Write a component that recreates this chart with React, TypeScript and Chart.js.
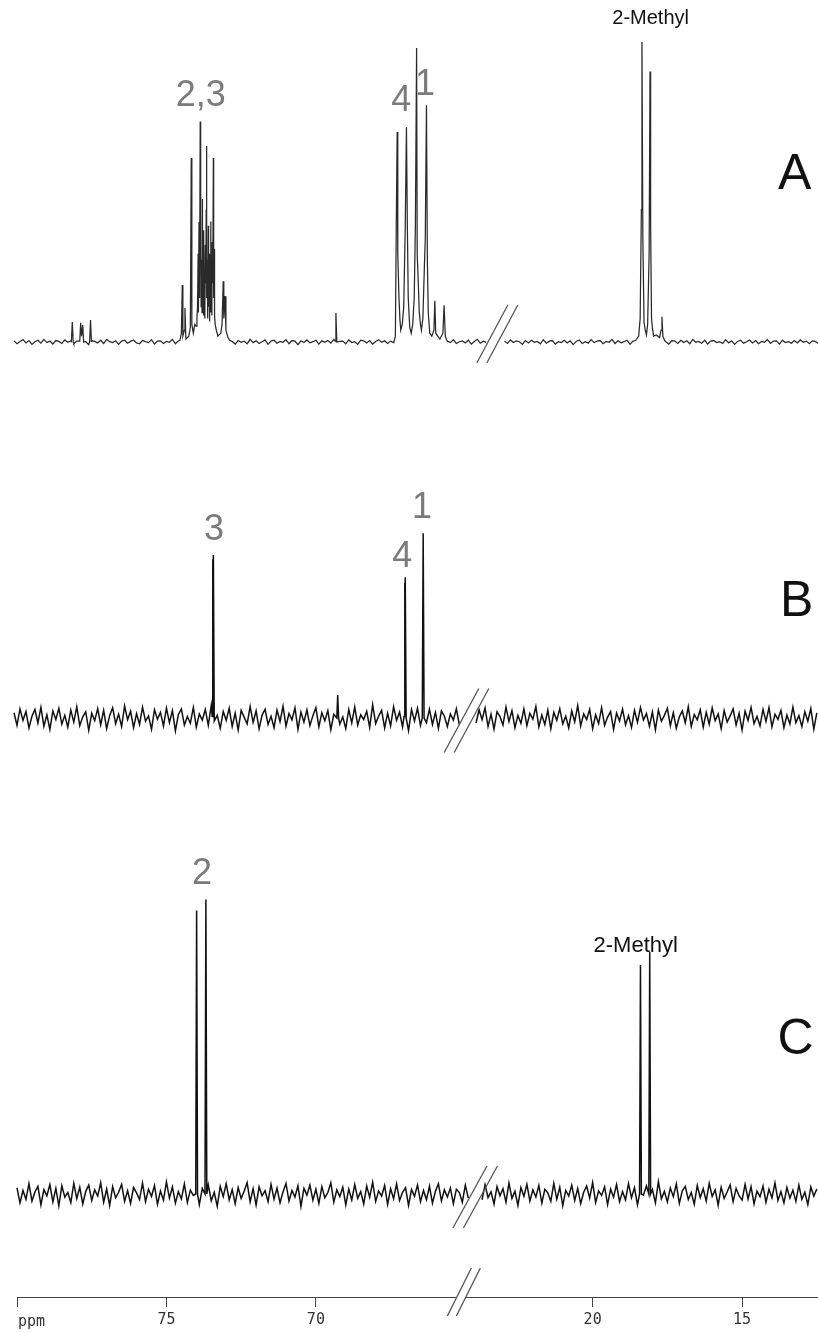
import React, { useEffect, useRef } from 'react';
import { Chart, registerables } from 'chart.js';

Chart.register(...registerables);

// ---- axis (ppm) ----
const BREAK_OFFSET = 40.74; // shift of the high-field segment so the two ppm windows sit side by side
const AXIS_LEFT_PPM = 80;
const AXIS_RIGHT_PPM = 12.46;
const X_TICK_PPM = [80, 75, 70, 20, 15];
const X_TICK_LABELS = ['', '75', '70', '20', '15'];
const GRID_STEP = 0.1;

// ---- spectrum A (baseline noise, sampled every 0.1 ppm) ----
const A_NOISE_LEFT_START = 80.1;
const A_NOISE_LEFT = [
  0.4,-0.6,0.2,0.8,-0.3,0.5,-0.8,0.1,0.6,-0.4,0.9,-0.2,0.3,-0.7,0.5,0.2,-0.5,0.7,-0.1,0.4,
  -0.6,0.3,0.8,-0.4,0.1,-0.9,0.5,0.2,-0.3,0.6,-0.5,0.9,0.1,-0.2,0.4,-0.8,0.3,0.6,-0.4,0.2,
  0.7,-0.3,-0.6,0.5,0.1,-0.2,0.8,-0.7,0.3,0.4,-0.5,0.2,-0.1,0.9,-0.6,0.4,0.1,-0.3,0.6,-0.8,
  0.2,0.5,-0.4,0.7,-0.2,0.3,-0.9,0.6,0.1,-0.5,0.8,-0.3,0.4,0.2,-0.7,0.5,-0.1,0.3,-0.6,0.9,
  -0.2,0.4,-0.5,0.1,0.7,-0.8,0.3,0.6,-0.4,0.2,-0.1,0.8,-0.6,0.5,0.3,-0.9,0.4,-0.2,0.7,-0.3,
  0.1,0.6,-0.7,0.4,-0.1,0.5,-0.4,0.9,-0.5,0.2,0.3,-0.6,0.7,-0.2,0.1,-0.8,0.6,0.4,-0.3,0.5,
  -0.7,0.2,0.8,-0.1,0.4,-0.5,0.3,-0.2,0.9,-0.6,0.1,0.5,-0.4,0.7,-0.3,0.2,-0.8,0.6,0.3,-0.1,
  0.5,-0.4,0.2,0.7,-0.6,0.3,-0.2,0.8,-0.5,0.1,0.4,-0.3,0.6,-0.7,0.2,0.9,-0.4,0.3,-0.1,
];
const A_NOISE_RIGHT_START = 22.95;
const A_NOISE_RIGHT = [
  0.3,-0.5,0.7,-0.2,0.4,0.1,-0.8,0.5,-0.3,0.6,-0.1,0.2,-0.6,0.8,-0.4,0.3,0.5,-0.7,0.1,-0.2,
  0.6,-0.3,0.4,-0.9,0.2,0.7,-0.5,0.1,-0.4,0.8,-0.2,0.3,0.5,-0.6,0.2,-0.1,0.9,-0.5,0.4,-0.3,
  0.1,0.6,-0.8,0.3,-0.2,0.5,-0.4,0.7,0.2,-0.6,0.4,-0.1,0.8,-0.3,0.1,-0.7,0.5,0.3,-0.5,0.6,
  -0.2,0.4,-0.6,0.9,-0.1,0.2,-0.4,0.6,-0.7,0.3,0.5,-0.2,0.1,-0.5,0.8,-0.3,0.4,-0.8,0.2,0.6,
  -0.4,0.1,0.7,-0.3,0.5,-0.6,0.2,-0.1,0.8,-0.5,0.3,0.4,-0.7,0.6,-0.2,0.1,-0.4,0.5,-0.3,0.7,
  -0.1,0.3,-0.6,0.4,0.2,-0.5,
];
// peak regions of A: [ppm, intensity] (100 = tallest line of A)
const A_PEAKS_LEFT = [
  [[78.18,0.2],[78.15,6.8],[78.12,0]],
  [[77.90,0.3],[77.87,6.5],[77.84,2],[77.80,5.8],[77.77,0]],
  [[77.57,0],[77.54,7.5],[77.51,0.2]],
  [[74.55,0.5],[74.50,3],[74.47,19.4],[74.45,2],[74.40,4],[74.38,11.6],[74.35,1],[74.25,2],[74.20,5],
   [74.17,62.6],[74.15,6],[74.10,3],[74.05,6],[74.01,5.4],[73.98,8],[73.96,12],[73.94,30],[73.93,10],
   [73.91,40.8],[73.90,15],[73.89,32],[73.88,20],[73.87,75],[73.86,35],[73.85,50],[73.84,12],[73.82,28],
   [73.81,10],[73.80,48.6],[73.79,14],[73.77,30],[73.76,9],[73.75,38],[73.74,12],[73.72,25],[73.71,8],
   [73.70,33],[73.68,20],[73.67,45],[73.66,66.7],[73.65,15],[73.63,28],[73.62,8],[73.60,39.5],[73.59,12],
   [73.57,25],[73.56,7],[73.55,30],[73.53,14],[73.52,41],[73.51,10],[73.49,22],[73.48,9],[73.47,34],
   [73.45,20],[73.43,62.6],[73.42,15],[73.40,31.6],[73.39,9],[73.37,6],[73.33,4],[73.28,2],[73.18,3],
   [73.14,6],[73.10,20.7],[73.08,8],[73.04,15.6],[73.01,4],[72.94,1.5],[72.88,0.5]],
  [[69.36,0.3],[69.33,9.9],[69.30,0]],
  [[67.39,0],[67.34,2],[67.31,40],[67.28,71.4],[67.26,30],[67.22,15],[67.19,8],[67.16,4],[67.11,6],
   [67.06,12],[67.01,39],[66.97,73],[66.94,40],[66.91,15],[66.86,5],[66.81,3],[66.76,6],[66.71,15],
   [66.67,40],[66.63,100],[66.61,30],[66.57,19],[66.54,10],[66.50,6],[66.47,4],[66.42,8],[66.37,25.5],
   [66.34,35],[66.30,80.5],[66.27,28],[66.24,10],[66.19,3],[66.12,2],[66.05,4],[66.02,14],[65.99,3],
   [65.92,2],[65.85,1],[65.75,3],[65.71,12.5],[65.67,2],[65.62,0.5]],
];
const A_PEAKS_RIGHT = [
  [[18.56,0.5],[18.46,2],[18.41,8],[18.37,45],[18.35,102],[18.32,35],[18.28,6.5],[18.24,4],[18.20,2.4],
   [18.16,6],[18.11,30],[18.08,92],[18.06,40],[18.03,8],[18.00,4.8],[17.96,2],[17.87,2.4],[17.76,1.5],
   [17.71,4],[17.68,8.6],[17.65,2],[17.59,0.5]],
];

// ---- spectrum B ----
const B_NOISE_LEFT_START = 80.1;
const B_NOISE_LEFT = [
  1.8,-2.5,3.1,-0.8,2.2,-3.4,0.6,2.9,-1.7,3.6,-2.8,1.1,-3.9,2.4,-0.5,3.3,-2.1,0.9,-3.1,2.7,
  -1.4,3.8,-2.6,0.4,2.1,-4.2,1.6,-0.9,3.2,-2.3,2.6,-3.6,0.8,3.5,-1.9,1.3,-2.9,4.1,-0.6,2.3,
  -3.3,1.5,-2.2,3.7,-1.1,0.7,-3.8,2.8,-0.4,1.9,-2.7,3.4,-1.6,2.5,-4.4,1.2,3.1,-2.4,0.5,-1.8,
  3.6,-3.1,1.4,-0.7,2.9,-2.5,4.3,-1.3,0.9,-3.5,2.2,-0.8,3.3,-2.9,1.7,-4.1,2.6,0.3,-2.0,3.9,
  -1.5,2.4,-3.7,1.0,3.0,-2.2,0.6,-3.3,2.7,-1.2,4.0,-2.8,1.5,-0.6,3.4,-3.9,2.0,-1.4,2.8,-2.6,
  0.8,3.5,-3.0,1.8,-0.9,2.5,-4.0,1.3,3.2,-2.1,0.4,-3.6,2.9,-1.7,3.7,-2.4,1.1,-0.5,2.3,-3.2,
  4.5,-1.9,0.7,2.6,-3.4,1.6,-2.7,3.8,-0.8,2.0,-3.1,1.2,-4.3,2.9,-1.0,3.3,-2.5,0.9,-1.6,3.0,
  -2.2,1.9,-3.5,2.4,0.6,-2.9,1.4,-0.7,3.1,-2.3,
];
const B_NOISE_RIGHT_START = 23.9;
const B_NOISE_RIGHT = [
  -1.7,2.8,-0.6,3.4,-2.9,1.3,-3.8,2.1,0.5,-2.4,3.7,-1.2,2.5,-3.3,0.9,-1.8,3.1,-2.6,1.6,-0.4,
  3.9,-3.0,1.0,-2.2,2.7,-3.7,1.9,-0.8,3.2,-2.0,0.6,-3.4,2.4,-1.3,4.2,-2.7,1.4,-0.5,2.9,-3.6,
  1.1,-1.9,3.5,-2.5,0.3,2.2,-3.9,1.7,-1.0,3.0,-2.3,0.8,-3.2,2.6,-1.5,3.6,-0.7,1.5,-2.8,2.0,
  -4.0,2.7,-1.1,0.9,3.3,-2.6,1.8,-3.5,0.4,2.4,-1.6,3.8,-2.9,1.2,-0.6,2.8,-3.1,1.9,-2.1,3.4,
  -0.9,1.4,-3.6,2.5,-1.4,0.7,3.1,-2.4,1.6,-4.1,2.3,-0.8,3.6,-1.9,0.5,-2.7,2.9,-1.2,3.5,-3.0,
  1.3,-0.5,2.6,-3.3,1.0,-2.0,3.7,-1.6,0.8,-2.9,2.1,-1.1,3.2,-3.8,1.7,
];
const B_PEAKS_LEFT = [
  [[73.47,0.5],[73.45,54],[73.44,25],[73.43,55.4],[73.40,-1]],
  [[69.30,0],[69.27,7.8],[69.24,0]],
  [[67.05,0.5],[67.03,46],[67.02,30],[67.01,47.9],[66.98,0]],
  [[66.44,0],[66.41,62.8],[66.38,0]],
];
const B_PEAKS_RIGHT: number[][][] = [];

// ---- spectrum C ----
const C_NOISE_LEFT_START = 80.0;
const C_NOISE_LEFT = [
  2.1,-3.0,1.2,-1.8,3.5,-2.4,0.7,2.6,-3.7,1.5,-0.6,3.2,-2.7,1.9,-4.0,2.8,-1.1,0.5,-2.9,3.6,
  -1.6,2.3,-3.4,0.9,3.0,-2.2,1.4,-0.7,3.8,-2.8,1.7,-3.9,2.5,-1.3,0.6,3.3,-2.5,1.1,-3.2,2.2,
  0.4,-1.9,3.7,-2.6,1.6,-0.8,2.9,-3.5,1.0,-2.1,4.1,-1.4,2.4,-3.1,0.8,-1.7,3.4,-2.9,1.3,-0.5,
  2.7,-3.6,1.9,-1.2,3.1,-2.3,0.6,-4.2,2.6,-0.9,3.5,-2.0,1.5,-3.3,2.2,-1.5,0.9,3.9,-2.7,1.8,
  -3.8,2.4,-0.6,1.1,-2.6,3.3,-1.8,2.0,-3.0,0.7,3.6,-2.4,1.2,-1.0,2.8,-4.3,1.9,-0.4,3.0,-2.1,
  1.6,-3.2,2.5,-1.3,0.5,3.8,-2.8,1.4,-0.9,2.3,-3.7,1.7,-2.0,3.2,-1.5,0.8,-3.4,2.7,-1.1,4.0,
  -2.5,1.0,-0.7,2.9,-3.5,1.8,-1.6,3.4,-2.2,0.6,2.1,-3.9,1.5,-0.8,3.1,-2.6,1.2,-1.9,2.6,-3.1,
  0.9,3.5,-2.3,1.4,-1.0,2.0,-3.3,1.6,0.5,-2.8,3.0,-1.4,
];
const C_NOISE_RIGHT_START = 23.7;
const C_NOISE_RIGHT = [
  -2.0,3.1,-1.2,0.7,-3.4,2.5,-0.6,1.8,-2.8,3.7,-1.5,0.9,-3.9,2.2,-0.8,3.3,-2.4,1.4,-1.0,2.9,
  -3.1,1.6,0.4,-2.5,3.6,-1.8,2.3,-4.0,1.2,-0.7,3.0,-2.2,1.9,-3.3,0.6,2.7,-1.4,3.9,-2.9,1.0,
  -0.5,2.4,-3.6,1.7,-1.1,3.2,-2.6,0.8,-2.0,3.5,-1.3,2.1,-3.7,1.3,-0.4,2.8,-2.3,1.5,-3.0,4.2,
  -1.6,0.9,-2.7,2.0,-0.9,3.4,-3.2,1.1,2.6,-1.9,0.5,-3.5,2.9,-1.2,1.8,-2.4,3.6,-0.8,1.4,-3.8,
  2.3,-1.5,0.7,3.1,-2.6,1.9,-0.6,-2.1,3.3,-1.7,2.5,-3.4,1.0,-0.9,2.7,-2.8,1.6,-1.3,3.8,-2.2,
  0.8,-3.0,2.2,-1.4,1.3,-2.5,3.0,-1.8,0.6,-3.6,2.4,-0.7,1.7,
];
const C_PEAKS_LEFT = [
  [[74.02,0],[73.99,96.4],[73.96,0]],
  [[73.71,0],[73.68,100.2],[73.65,0]],
];
const C_PEAKS_RIGHT = [
  [[18.43,0],[18.40,77.9],[18.37,0]],
  [[18.12,0],[18.09,82.4],[18.06,0]],
];

// ---- layout / style constants ----
const CANVAS_W = 818;
const CANVAS_H = 1333;
const AREA_BOTTOM = 1297;
const PX_PER_UNIT = 2.94;
const BASELINE_PX: Record<string, number> = { yA: 342, yB: 718, yC: 1194 };
const GRAY = '#7b7b7b';
const SANS = '"Liberation Sans", Arial, sans-serif';
const MONO = '"DejaVu Sans Mono", monospace';

type Pt = { x: number; y: number | null };
const toU = (ppm: number) => (ppm > 40 ? ppm : ppm + BREAK_OFFSET);

function segmentPoints(start: number, noise: number[], traces: number[][][]): Pt[] {
  const spans = traces.map((t) => [Math.min(...t.map((p) => p[0])), Math.max(...t.map((p) => p[0]))]);
  const pts: Pt[] = [];
  noise.forEach((v, i) => {
    const ppm = Math.round((start - i * GRID_STEP) * 100) / 100;
    if (spans.some(([lo, hi]) => ppm >= lo && ppm <= hi)) return;
    pts.push({ x: toU(ppm), y: v });
  });
  traces.forEach((t) => t.forEach(([p, v]) => pts.push({ x: toU(p), y: v })));
  pts.sort((a, b) => b.x - a.x);
  return pts;
}

function spectrum(lStart: number, lNoise: number[], lPeaks: number[][][], rStart: number, rNoise: number[], rPeaks: number[][][]): Pt[] {
  const l = segmentPoints(lStart, lNoise, lPeaks);
  const r = segmentPoints(rStart, rNoise, rPeaks);
  return [...l, { x: (l[l.length - 1].x + r[0].x) / 2, y: null }, ...r];
}

function yRange(axis: string) {
  const b = BASELINE_PX[axis];
  return { min: -(AREA_BOTTOM - b) / PX_PER_UNIT, max: b / PX_PER_UNIT };
}

// labels: [text, ppm, intensity, axis]
const PEAK_LABELS: [string, number, number, string][] = [
  ['2,3', 73.85, 83.7, 'yA'],
  ['4', 67.14, 82.0, 'yA'],
  ['1', 66.35, 87.4, 'yA'],
  ['3', 73.41, 63.9, 'yB'],
  ['4', 67.11, 54.8, 'yB'],
  ['1', 66.45, 71.4, 'yB'],
  ['2', 73.81, 108.8, 'yC'],
];
// [text, ppm, intensity, axis, font size]
const GROUP_LABELS: [string, number, number, string, number][] = [
  ['2-Methyl', 18.06, 110.2, 'yA', 20],
  ['2-Methyl', 18.56, 84.4, 'yC', 22],
];
const PANEL_LABELS: [string, number, number, string][] = [
  ['A', 13.24, 56.8, 'yA'],
  ['B', 13.17, 39.5, 'yB'],
  ['C', 13.21, 52.4, 'yC'],
];
// break marks: axis, ppm of centre, intensity of centre, half dx, half dy, gap
const SPECTRUM_BREAKS: [string, number, number, number, number, number][] = [
  ['yA', 63.93, 2.7, 15.5, 29, 10],
  ['yB', 64.96, -0.85, 17.3, 32, 10],
  ['yC', 64.67, -1.0, 17, 31, 10.5],
];

const overlay = {
  id: 'overlay',
  afterDraw(chart: any) {
    const { ctx, scales, chartArea } = chart;
    const xs = scales.x;
    ctx.save();
    ctx.strokeStyle = '#555';
    ctx.lineWidth = 1.3;
    const slashPair = (cx: number, cy: number, dx: number, dy: number, gap: number) => {
      [-gap / 2, gap / 2].forEach((off) => {
        ctx.beginPath();
        ctx.moveTo(cx + off - dx, cy + dy);
        ctx.lineTo(cx + off + dx, cy - dy);
        ctx.stroke();
      });
    };
    SPECTRUM_BREAKS.forEach(([axis, ppm, val, dx, dy, gap]) => {
      slashPair(xs.getPixelForValue(toU(ppm)), scales[axis].getPixelForValue(val), dx, dy, gap);
    });
    // axis break
    const acx = xs.getPixelForValue(toU(65.05));
    const acy = chartArea.bottom - 5;
    const shift = (12 * 5) / 24;
    ctx.fillStyle = '#fff';
    ctx.fillRect(acx - 4.5 - shift, chartArea.bottom - 2, 9, 4);
    slashPair(acx, acy, 12, 24, 9);

    ctx.textAlign = 'center';
    ctx.textBaseline = 'middle';
    ctx.fillStyle = GRAY;
    ctx.font = `36px ${SANS}`;
    PEAK_LABELS.forEach(([t, ppm, v, axis]) => {
      ctx.fillText(t, xs.getPixelForValue(toU(ppm)), scales[axis].getPixelForValue(v));
    });
    ctx.fillStyle = '#111';
    GROUP_LABELS.forEach(([t, ppm, v, axis, size]) => {
      ctx.font = `${size}px ${SANS}`;
      ctx.fillText(t, xs.getPixelForValue(toU(ppm)), scales[axis].getPixelForValue(v));
    });
    ctx.font = `50px ${SANS}`;
    PANEL_LABELS.forEach(([t, ppm, v, axis]) => {
      ctx.fillText(t, xs.getPixelForValue(toU(ppm)), scales[axis].getPixelForValue(v));
    });
    // axis unit
    ctx.textAlign = 'left';
    ctx.fillStyle = '#333';
    ctx.font = `15px ${MONO}`;
    ctx.fillText('ppm', xs.getPixelForValue(toU(AXIS_LEFT_PPM)) + 1, chartArea.bottom + 25);
    ctx.restore();
  },
};

export default function App() {
  const ref = useRef<HTMLCanvasElement | null>(null);
  useEffect(() => {
    if (!ref.current) return;
    const ds = (data: Pt[], axis: string, color: string, width: number) => ({
      data,
      yAxisID: axis,
      borderColor: color,
      borderWidth: width,
      pointRadius: 0,
      tension: 0,
      spanGaps: false,
      clip: false as any,
    });
    const chart = new Chart(ref.current, {
      type: 'line',
      data: {
        datasets: [
          ds(spectrum(A_NOISE_LEFT_START, A_NOISE_LEFT, A_PEAKS_LEFT, A_NOISE_RIGHT_START, A_NOISE_RIGHT, A_PEAKS_RIGHT), 'yA', '#2a2a2a', 1.25),
          ds(spectrum(B_NOISE_LEFT_START, B_NOISE_LEFT, B_PEAKS_LEFT, B_NOISE_RIGHT_START, B_NOISE_RIGHT, B_PEAKS_RIGHT), 'yB', '#111', 1.5),
          ds(spectrum(C_NOISE_LEFT_START, C_NOISE_LEFT, C_PEAKS_LEFT, C_NOISE_RIGHT_START, C_NOISE_RIGHT, C_PEAKS_RIGHT), 'yC', '#111', 1.5),
        ] as any,
      },
      options: {
        animation: false,
        responsive: false,
        events: [],
        layout: { padding: { left: 17, right: 0, top: 0, bottom: 0 } },
        plugins: { legend: { display: false }, tooltip: { enabled: false } },
        scales: {
          x: {
            type: 'linear',
            reverse: true,
            min: toU(AXIS_RIGHT_PPM),
            max: toU(AXIS_LEFT_PPM),
            afterBuildTicks: (scale: any) => {
              scale.ticks = X_TICK_PPM.map((p) => ({ value: toU(p) }));
            },
            ticks: {
              autoSkip: false,
              maxRotation: 0,
              padding: 4,
              color: '#333',
              font: { family: MONO, size: 15 },
              callback: (value: any) => {
                const i = X_TICK_PPM.findIndex((p) => Math.abs(toU(p) - Number(value)) < 0.01);
                return i >= 0 ? X_TICK_LABELS[i] : '';
              },
            },
            grid: { display: true, drawOnChartArea: false, drawTicks: true, tickLength: 10, color: '#444', lineWidth: 1 },
            border: { display: true, color: '#444', width: 1 },
          },
          yA: { type: 'linear', display: false, ...yRange('yA') },
          yB: { type: 'linear', display: false, ...yRange('yB') },
          yC: { type: 'linear', display: false, ...yRange('yC') },
        },
      },
      plugins: [overlay],
    } as any);
    return () => chart.destroy();
  }, []);
  return (
    <div style={{ position: 'absolute', left: 0, top: 0, width: CANVAS_W, height: CANVAS_H, background: '#fff' }}>
      <canvas ref={ref} width={CANVAS_W} height={CANVAS_H} style={{ display: 'block' }} />
    </div>
  );
}
